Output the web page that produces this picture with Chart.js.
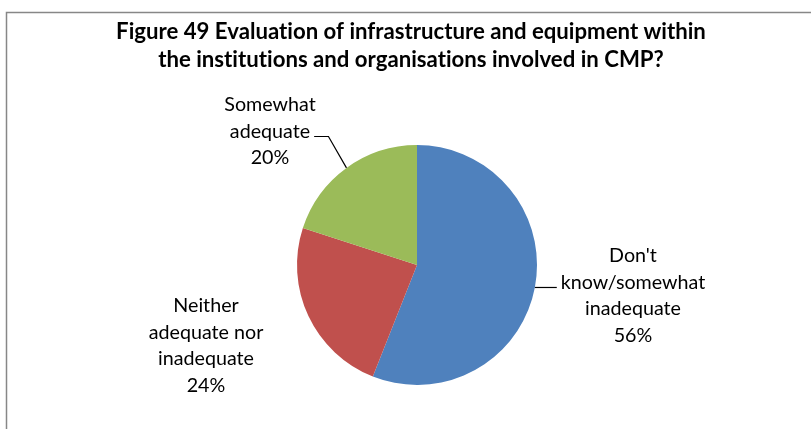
<!DOCTYPE html>
<html>
<head>
<meta charset="utf-8">
<script src="https://cdn.jsdelivr.net/npm/chart.js@4"></script>
<style>
  html, body { margin: 0; padding: 0; background: #fff; }
  #wrap { width: 811px; height: 429px; position: relative; }
</style>
</head>
<body>
<div id="wrap"><canvas id="chart" width="811" height="429"></canvas></div>
<script>
// data
var categories = ["Don't know/somewhat inadequate", "Neither adequate nor inadequate", "Somewhat adequate"];
var values = [56, 24, 20];
var colours = ["#4F81BD", "#C0504D", "#9BBB59"];
var labelLines = [
    ["Don't", "know/somewhat", "inadequate", "56%"],
    ["Neither", "adequate nor", "inadequate", "24%"],
    ["Somewhat", "adequate", "20%"]
];
var titleLines = [
    "Figure 49 Evaluation of infrastructure and equipment within",
    "the institutions and organisations involved in CMP?"
];

// where each data label block sits (centre x, first line y) and if it gets a leader line
var labelPlace = [
    { x: 633, y: 256, leader: true },
    { x: 206, y: 306, leader: false },
    { x: 270, y: 105, leader: true }
];
var LINE_H = 26.5;
var LABEL_FONT = "19.7px Lato";
var TITLE_FONT = "bold 22.2px Lato";

// Lato joins "ti" into a ligature, the original font does not
function noLig(s) {
    return s.replace(/t(?=i)/g, "t\u200C").replace(/f(?=[il])/g, "f\u200C");
}

var decorations = {
    id: "decorations",
    beforeDraw: function (chart) {
        var ctx = chart.ctx;
        ctx.save();
        // chart frame (cut off on the right and bottom)
        ctx.strokeStyle = "#878787";
        ctx.lineWidth = 1.5;
        ctx.beginPath();
        ctx.moveTo(6.5, 440);
        ctx.lineTo(6.5, 12.5);
        ctx.lineTo(820, 12.5);
        ctx.stroke();
        // title
        ctx.fillStyle = "#000";
        ctx.font = TITLE_FONT;
        ctx.textAlign = "center";
        ctx.textBaseline = "middle";
        titleLines.forEach(function (t, i) {
            ctx.fillText(noLig(t), 411, 32 + i * 27.5);
        });
        ctx.restore();
    },
    afterDatasetsDraw: function (chart) {
        var ctx = chart.ctx;
        var meta = chart.getDatasetMeta(0);
        ctx.save();
        ctx.font = LABEL_FONT;
        ctx.fillStyle = "#000";
        ctx.textAlign = "center";
        ctx.textBaseline = "middle";
        meta.data.forEach(function (arc, i) {
            var p = labelPlace[i];
            var lines = labelLines[i];
            lines.forEach(function (t, j) {
                ctx.fillText(t, p.x, p.y + j * LINE_H);
            });
            if (!p.leader) return;
            var mid = (arc.startAngle + arc.endAngle) / 2;
            var ex = arc.x + Math.cos(mid) * arc.outerRadius;
            var ey = arc.y + Math.sin(mid) * arc.outerRadius;
            // leader ends next to the second line of the block
            var ly = i === 0 ? p.y + LINE_H : p.y + LINE_H + 5;
            var w = ctx.measureText(lines[1]).width;
            var lx = ex > p.x ? p.x + w / 2 + 4 : p.x - w / 2 - 4;
            ctx.strokeStyle = "#000";
            ctx.lineWidth = 1.2;
            ctx.beginPath();
            ctx.moveTo(ex, ey);
            if (i === 0) {
                ctx.lineTo(lx, ey);
            } else {
                ctx.lineTo(ex - 18, ly);
                ctx.lineTo(lx, ly);
            }
            ctx.stroke();
        });
        ctx.restore();
    }
};

new Chart(document.getElementById("chart"), {
    type: "pie",
    data: {
        labels: categories,
        datasets: [{
            data: values,
            backgroundColor: colours,
            borderWidth: 0
        }]
    },
    options: {
        responsive: false,
        animation: false,
        layout: { padding: { top: 145, bottom: 44, left: 297, right: 274 } },
        plugins: {
            legend: { display: false },
            title: { display: false },
            tooltip: { enabled: false }
        }
    },
    plugins: [decorations]
});
</script>
</body>
</html>
